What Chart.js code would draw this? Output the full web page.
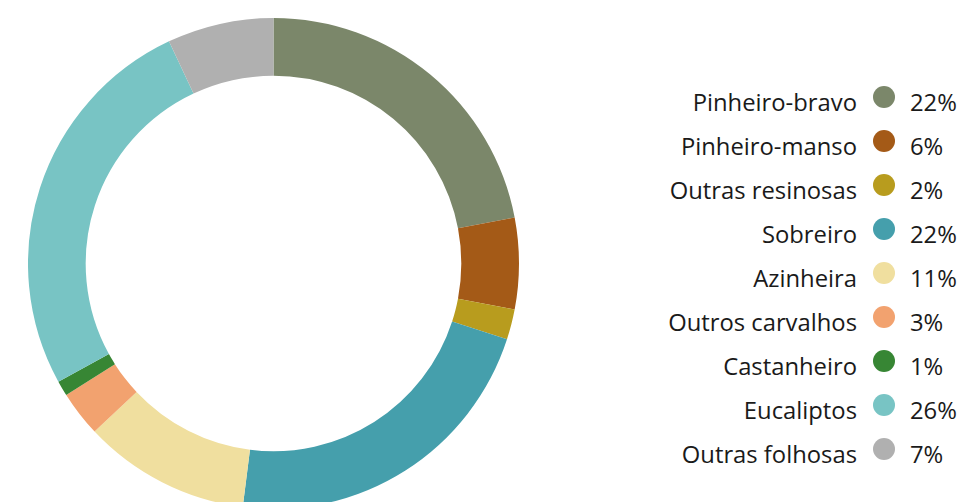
<!DOCTYPE html>
<html lang="pt">
<head>
<meta charset="UTF-8">
<title>Espécies florestais</title>
<script src="https://cdn.jsdelivr.net/npm/chart.js"></script>
<style>
    html, body {
        margin: 0;
        padding: 0;
        width: 959px;
        height: 502px;
        overflow: hidden;
        background: #fff;
        font-family: "Open Sans", sans-serif;
    }
    #wrap {
        position: absolute;
        left: 28px;
        top: 18px;
        width: 491px;
        height: 491px;
    }
    #legend {
        position: absolute;
        left: 560px;
        top: 80px;
        width: 399px;
    }
    .row {
        display: flex;
        align-items: center;
        height: 44px;
        font-size: 23.8px;
        color: #1a1a1a;
    }
    .row .lbl {
        width: 297px;
        text-align: right;
    }
    .row .dot {
        width: 22px;
        height: 22px;
        border-radius: 50%;
        margin-left: 16px;
        margin-right: 15px;
        position: relative;
        top: -5px;
    }
</style>
</head>
<body>
<div id="wrap"><canvas id="chart"></canvas></div>
<div id="legend"></div>

<script>
    // Species and their share of the forest area (%)
    const species = ['Pinheiro-bravo', 'Pinheiro-manso', 'Outras resinosas', 'Sobreiro', 'Azinheira',
                     'Outros carvalhos', 'Castanheiro', 'Eucaliptos', 'Outras folhosas'];
    const shares = [22, 6, 2, 22, 11, 3, 1, 26, 7];
    const colors = ['#7b876a', '#a45a17', '#b89c1e', '#459fac', '#f0df9f',
                    '#f2a26f', '#378634', '#78c4c4', '#b0b0b0'];

    new Chart(document.getElementById('chart'), {
        type: 'doughnut',
        data: {
            labels: species,
            datasets: [{
                data: shares,
                backgroundColor: colors,
                borderWidth: 0
            }]
        },
        options: {
            responsive: true,
            maintainAspectRatio: false,
            animation: false,
            cutout: '76.5%',
            plugins: {
                legend: { display: false },
                tooltip: { enabled: false }
            }
        }
    });

    // Legend on the right: name, colour dot, percentage
    const legend = document.getElementById('legend');
    species.forEach((name, i) => {
        const row = document.createElement('div');
        row.className = 'row';
        row.innerHTML = '<span class="lbl">' + name + '</span>' +
            '<span class="dot" style="background:' + colors[i] + '"></span>' +
            '<span>' + shares[i] + '%</span>';
        legend.appendChild(row);
    });
</script>
</body>
</html>
